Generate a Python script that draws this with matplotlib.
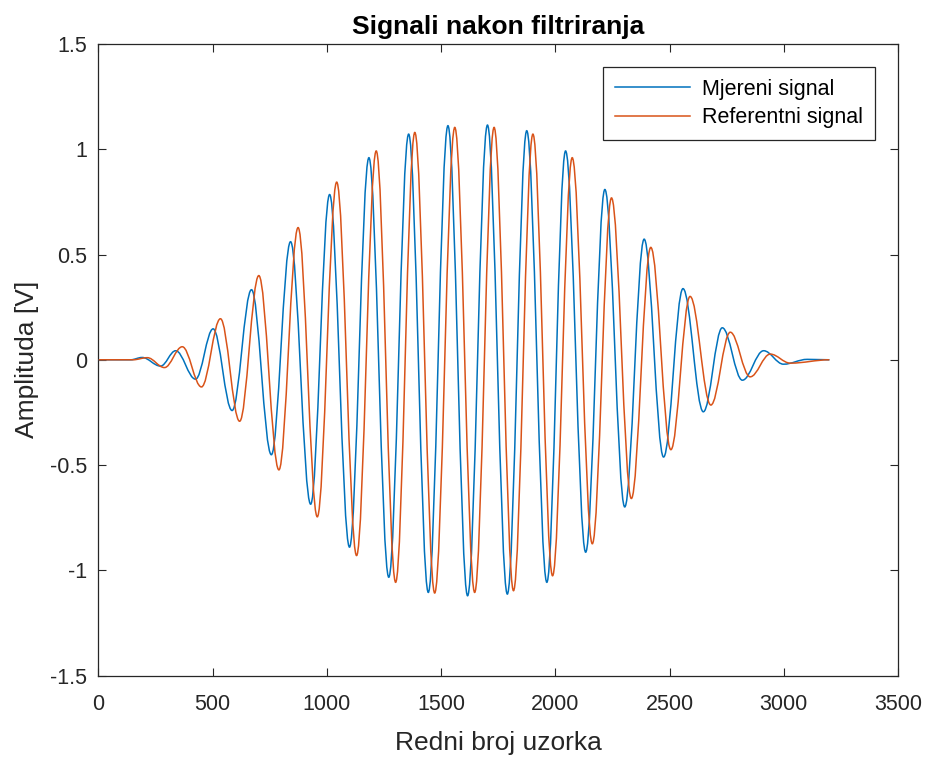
import matplotlib
matplotlib.use("Agg")
import matplotlib.pyplot as plt
from matplotlib.path import Path
from matplotlib.patches import PathPatch
from matplotlib.lines import Line2D

# ── Estremi (uzorak, amplituda) očitani sa slike ─────────────────────────────
MJ_X = [1, 141, 191, 272, 338, 425, 502, 585, 670, 757, 841, 929, 1012, 1099,
        1184, 1271, 1358, 1444, 1530, 1616, 1703, 1790, 1875, 1963, 2045, 2133,
        2217, 2304, 2389, 2474, 2559, 2648, 2731, 2819, 2912, 2999, 3103, 3200]
MJ_Y = [0.0, 0.0, 0.011, -0.030, 0.043, -0.092, 0.147, -0.241, 0.333, -0.451,
        0.561, -0.686, 0.785, -0.890, 0.960, -1.033, 1.072, -1.105, 1.112,
        -1.121, 1.115, -1.113, 1.088, -1.057, 0.992, -0.914, 0.809, -0.699,
        0.573, -0.462, 0.338, -0.247, 0.152, -0.097, 0.043, -0.021, 0.002, 0.0]

REF_X = [1, 151, 214, 289, 367, 451, 534, 618, 702, 790, 874, 958, 1043, 1130,
         1216, 1301, 1385, 1472, 1560, 1647, 1732, 1817, 1902, 1988, 2074, 2162,
         2246, 2333, 2418, 2506, 2590, 2681, 2766, 2853, 2941, 3029, 3200]
REF_Y = [0.0, 0.0, 0.010, -0.037, 0.062, -0.129, 0.195, -0.292, 0.400, -0.523,
         0.628, -0.746, 0.844, -0.930, 0.992, -1.057, 1.080, -1.108, 1.104,
         -1.105, 1.104, -1.097, 1.072, -1.026, 0.960, -0.874, 0.769, -0.659,
         0.534, -0.427, 0.301, -0.215, 0.131, -0.081, 0.027, -0.016, 0.0]

X_TICKS = [0, 500, 1000, 1500, 2000, 2500, 3000, 3500]
Y_TICKS = [-1.5, -1, -0.5, 0, 0.5, 1, 1.5]
Y_TICKLABELS = ["-1.5", "-1", "-0.5", "0", "0.5", "1", "1.5"]

C_MJ = "#0072BD"
C_REF = "#D95319"
C_AX = "#262626"


def wave_path(xs, ys, k=0.364):
    # glatka krivulja kroz estreme: Bezier segmenti s vodoravnom tangentom
    verts = [(xs[0], ys[0])]
    codes = [Path.MOVETO]
    for i in range(len(xs) - 1):
        dx = xs[i + 1] - xs[i]
        verts += [(xs[i] + k * dx, ys[i]),
                  (xs[i + 1] - k * dx, ys[i + 1]),
                  (xs[i + 1], ys[i + 1])]
        codes += [Path.CURVE4] * 3
    return Path(verts, codes)


plt.rcParams["font.family"] = ["Liberation Sans", "DejaVu Sans"]

fig = plt.figure(figsize=(9.28, 7.58), dpi=100, facecolor="white")
ax = fig.add_axes([0.1061, 0.1088, 0.8615, 0.8331])

ax.add_patch(PathPatch(wave_path(MJ_X, MJ_Y), fill=False, edgecolor=C_MJ,
                       lw=1.1, zorder=3))
ax.add_patch(PathPatch(wave_path(REF_X, REF_Y), fill=False, edgecolor=C_REF,
                       lw=1.1, zorder=4))

ax.set_xlim(0, 3500)
ax.set_ylim(-1.5, 1.5)
ax.set_xticks(X_TICKS)
ax.set_xticklabels([str(t) for t in X_TICKS])
ax.set_yticks(Y_TICKS)
ax.set_yticklabels(Y_TICKLABELS)

ax.tick_params(direction="in", length=6, width=0.8, colors=C_AX,
               labelsize=15.5, top=True, right=True)
ax.tick_params(axis="x", pad=13)
ax.tick_params(axis="y", pad=8)
for sp in ax.spines.values():
    sp.set_color(C_AX)
    sp.set_linewidth(0.9)

ax.set_xlabel("Redni broj uzorka", fontsize=19, color=C_AX, labelpad=12)
ax.set_ylabel("Amplituda [V]", fontsize=19, color=C_AX, labelpad=8)
ax.set_title("Signali nakon filtriranja", fontsize=19, fontweight="bold",
             color="black", pad=7)

handles = [Line2D([], [], color=C_MJ, lw=1.1, label="Mjereni signal"),
           Line2D([], [], color=C_REF, lw=1.1, label="Referentni signal")]
leg = ax.legend(handles=handles, loc="upper right",
                bbox_to_anchor=(0.971, 0.9636), borderaxespad=0,
                fontsize=15.5, handlelength=3.5, handletextpad=0.55,
                fancybox=False, framealpha=1, edgecolor=C_AX,
                borderpad=0.55, labelspacing=0.35)
leg.get_frame().set_linewidth(0.9)

fig.savefig("out.png", dpi=100, facecolor="white")
